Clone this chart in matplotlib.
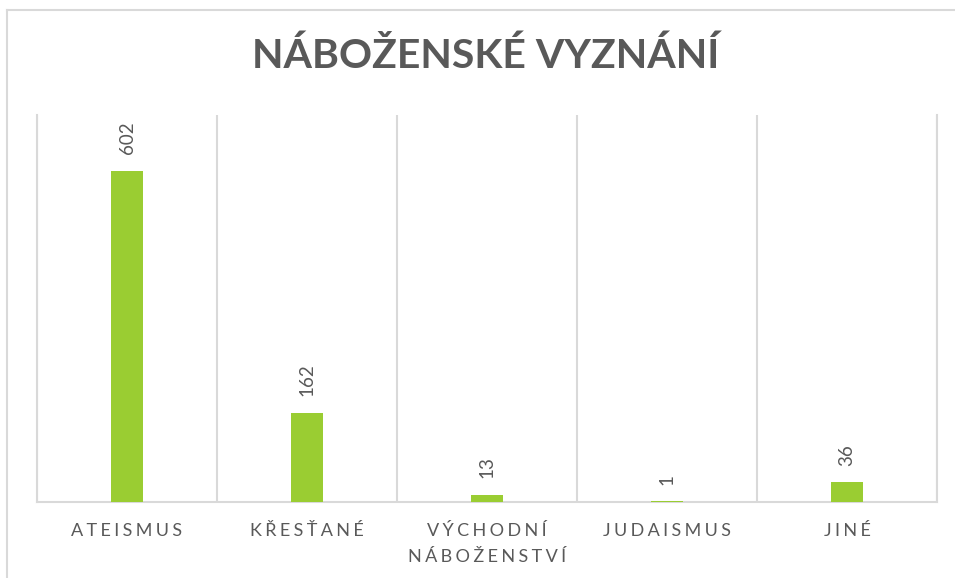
import matplotlib.pyplot as plt
from matplotlib.lines import Line2D

categories = ['ATEISMUS', 'KŘESŤANÉ', 'VÝCHODNÍ\nNÁBOŽENSTVÍ', 'JUDAISMUS', 'JINÉ']
values = [602, 162, 13, 1, 36]
title = 'NÁBOŽENSKÉ VYZNÁNÍ'

bar_color = '#9ACD32'
text_color = '#595959'
line_color = '#D9D9D9'
fonts = ['Lato', 'Open Sans', 'DejaVu Sans']


def spaced(s, sep='\u2009'):
    # crude letter spacing, line by line
    return '\n'.join(sep.join(line) for line in s.split('\n'))


fig = plt.figure(figsize=(9.55, 5.78), dpi=100)
ax = fig.add_axes([37 / 955, 76 / 578, 900 / 955, 387 / 578])

x = list(range(len(categories)))
ax.bar(x, values, width=0.18, color=bar_color, zorder=3)

for xi, v in zip(x, values):
    ax.annotate(str(v), (xi, v), xytext=(0, 12), textcoords='offset points',
                rotation=90, ha='center', va='bottom', color=text_color,
                fontsize=13.5, family=fonts)

ax.set_xlim(-0.5, len(categories) - 0.5)
ax.set_ylim(0, 703)

# category separators as vertical grid lines
ax.set_xticks([i - 0.5 for i in range(len(categories) + 1)], minor=True)
ax.grid(True, which='minor', axis='x', color=line_color, linewidth=1.5, zorder=0)
ax.tick_params(axis='x', which='both', length=0, pad=15)
ax.set_xticks(x)
ax.set_xticklabels([spaced(c, '\u2009\u200a') for c in categories], color=text_color,
                   fontsize=13, family=fonts, linespacing=1.75, va='top')
ax.set_yticks([])

ax.spines['top'].set_visible(False)
for side in ['left', 'right', 'bottom']:
    ax.spines[side].set_color(line_color)
    ax.spines[side].set_linewidth(1.5)

fig.text(486 / 955, 1 - 56 / 578, title, ha='center', va='center',
         fontsize=29.5, fontweight='bold', color=text_color, family=fonts)

# outer chart border (left and top edges visible)
fig.add_artist(Line2D([7 / 955, 7 / 955], [0, 1 - 10 / 578], transform=fig.transFigure,
                      color=line_color, linewidth=1.5))
fig.add_artist(Line2D([7 / 955, 1], [1 - 10 / 578, 1 - 10 / 578], transform=fig.transFigure,
                      color=line_color, linewidth=1.5))

fig.savefig('out.png', dpi=100)
